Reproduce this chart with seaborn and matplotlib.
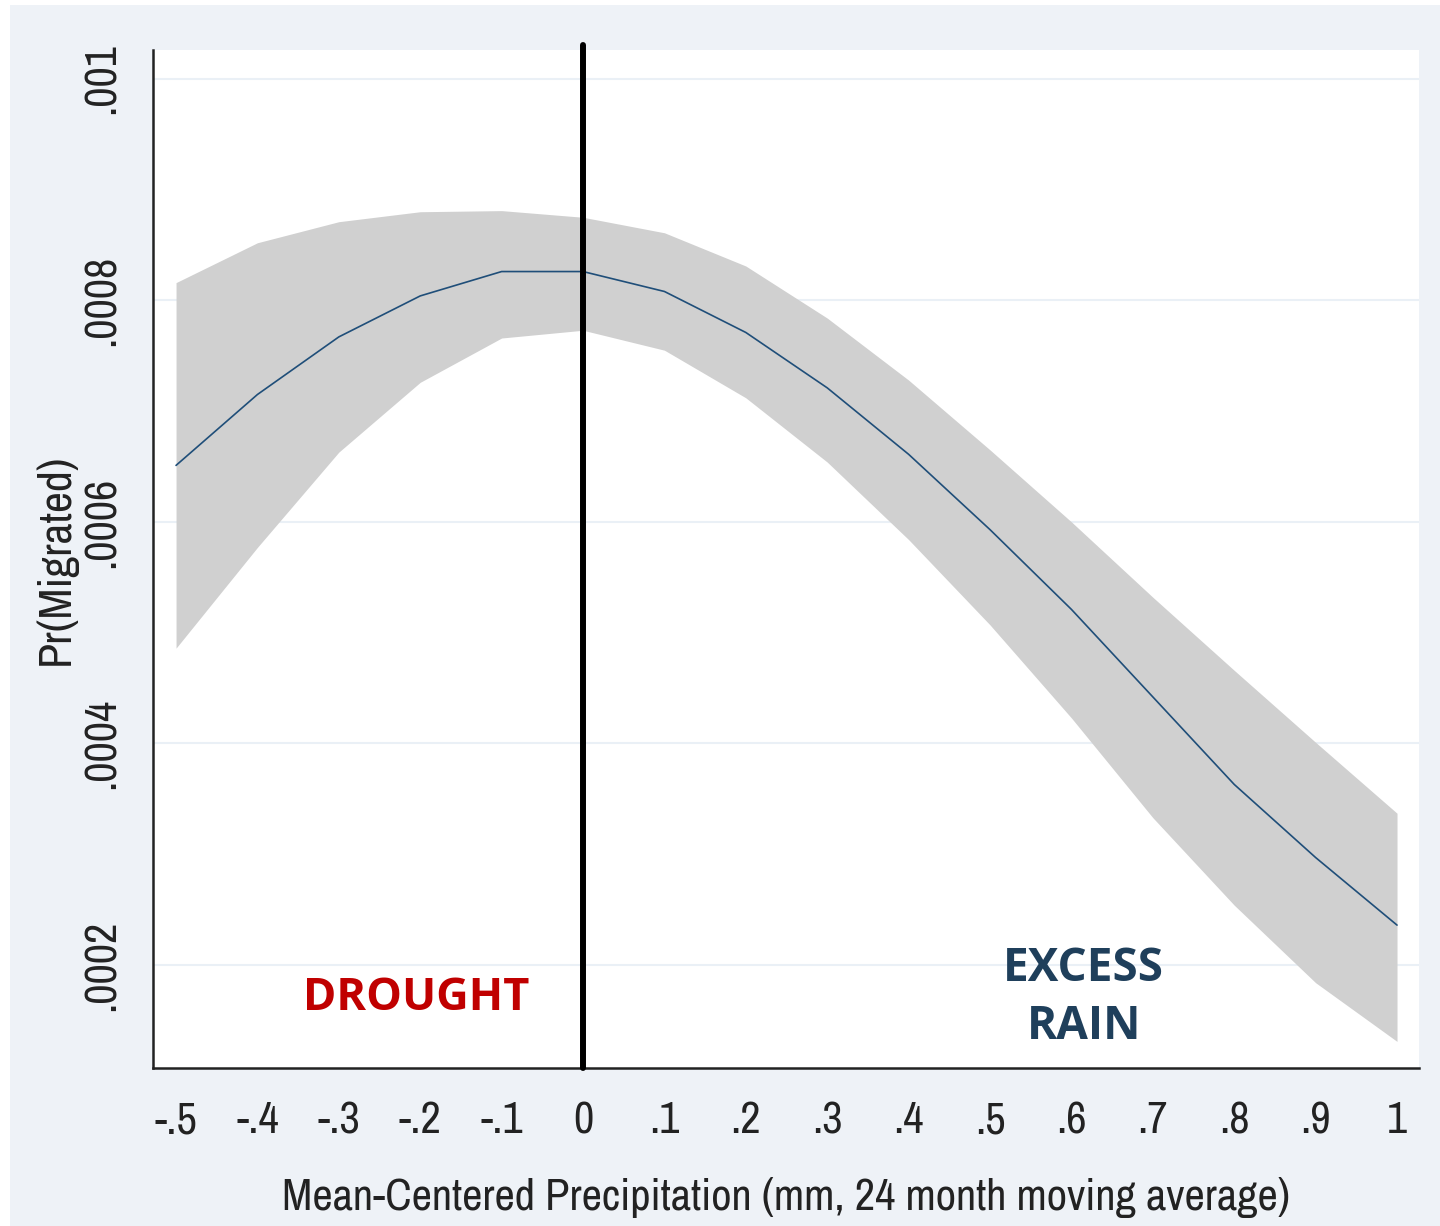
import pandas as pd
import matplotlib
matplotlib.use('Agg')
import matplotlib.pyplot as plt
import seaborn as sns

# valores (Stata margins plot)
precip = [-0.5, -0.4, -0.3, -0.2, -0.1, 0.0, 0.1, 0.2, 0.3, 0.4, 0.5, 0.6, 0.7, 0.8, 0.9, 1.0]
pr_migrated = [0.000651, 0.000715, 0.000767, 0.000804, 0.000826, 0.000826, 0.000808, 0.000771,
               0.000721, 0.000661, 0.000593, 0.000521, 0.000442, 0.000363, 0.000297, 0.000236]
ci_upper = [0.000816, 0.000852, 0.000871, 0.000880, 0.000881, 0.000875, 0.000861, 0.000831,
            0.000784, 0.000728, 0.000665, 0.000600, 0.000532, 0.000466, 0.000401, 0.000337]
ci_lower = [0.000486, 0.000577, 0.000663, 0.000726, 0.000766, 0.000773, 0.000755, 0.000712,
            0.000654, 0.000584, 0.000507, 0.000423, 0.000333, 0.000254, 0.000184, 0.000131]

x_ticks = [-0.5, -0.4, -0.3, -0.2, -0.1, 0, 0.1, 0.2, 0.3, 0.4, 0.5, 0.6, 0.7, 0.8, 0.9, 1.0]
x_labels = ['-.5', '-.4', '-.3', '-.2', '-.1', '0', '.1', '.2', '.3', '.4', '.5', '.6', '.7', '.8', '.9', '1']
y_ticks = [0.0002, 0.0004, 0.0006, 0.0008, 0.001]
y_labels = ['.0002', '.0004', '.0006', '.0008', '.001']

df = pd.DataFrame({'precip': precip, 'pr': pr_migrated, 'lo': ci_lower, 'hi': ci_upper})

sns.set_theme(style="white")
plt.rcParams['font.family'] = ['Archivo Narrow', 'DejaVu Sans']

bg = '#EEF2F7'
ink = '#222222'
fig = plt.figure(figsize=(14.4, 12.26), dpi=100, facecolor='white')
fig.patches.append(plt.Rectangle((10 / 1440, 0), 1, 1 - 5 / 1226, transform=fig.transFigure,
                                 facecolor=bg, edgecolor='none', zorder=-10))
ax = fig.add_axes([153 / 1440, 1 - 1068 / 1226, (1419 - 153) / 1440, (1068 - 50) / 1226])
ax.set_facecolor('white')

ax.fill_between(df['precip'], df['lo'], df['hi'], color='#D0D0D0', linewidth=0, zorder=1)
sns.lineplot(data=df, x='precip', y='pr', color='#1F4E79', linewidth=1.2, ax=ax, zorder=2)
ax.axvline(0, ymin=0, ymax=1.005, color='black', linewidth=4.3, zorder=3, clip_on=False)

ax.set_xlim(-0.5283, 1.027)
ax.set_ylim(0.000107, 0.001026)
ax.set_xticks(x_ticks)
ax.set_xticklabels(x_labels, fontsize=32)
ax.set_yticks(y_ticks)
ax.set_yticklabels(y_labels, fontsize=32, rotation=90, va='center')
ax.yaxis.grid(True, color='#EAF0F6', linewidth=1.5)
ax.set_axisbelow(True)
ax.tick_params(axis='both', direction='out', length=10, width=1.5, color=ink, labelcolor=ink)
ax.tick_params(axis='x', pad=14)
ax.tick_params(axis='y', pad=12)

for s in ['top', 'right']:
    ax.spines[s].set_visible(False)
for s in ['left', 'bottom']:
    ax.spines[s].set_color(ink)
    ax.spines[s].set_linewidth(1.8)

ax.set_xlabel('Mean-Centered Precipitation (mm, 24 month moving average)', fontsize=32,
              color=ink, labelpad=26)
ax.set_ylabel('Pr(Migrated)', fontsize=33, color=ink, labelpad=4)

ax.text(-0.205, 0.000170, 'DROUGHT', color='#C00000', fontsize=32.5, fontweight='bold',
        family=['Open Sans', 'DejaVu Sans'], ha='center', va='center')
ax.text(0.615, 0.000171, 'EXCESS\nRAIN', color='#1F3F5B', fontsize=33, fontweight='bold',
        family=['Open Sans', 'DejaVu Sans'], ha='center', va='center', linespacing=1.3)

plt.savefig('out.png', dpi=100, facecolor=fig.get_facecolor())
plt.close()
